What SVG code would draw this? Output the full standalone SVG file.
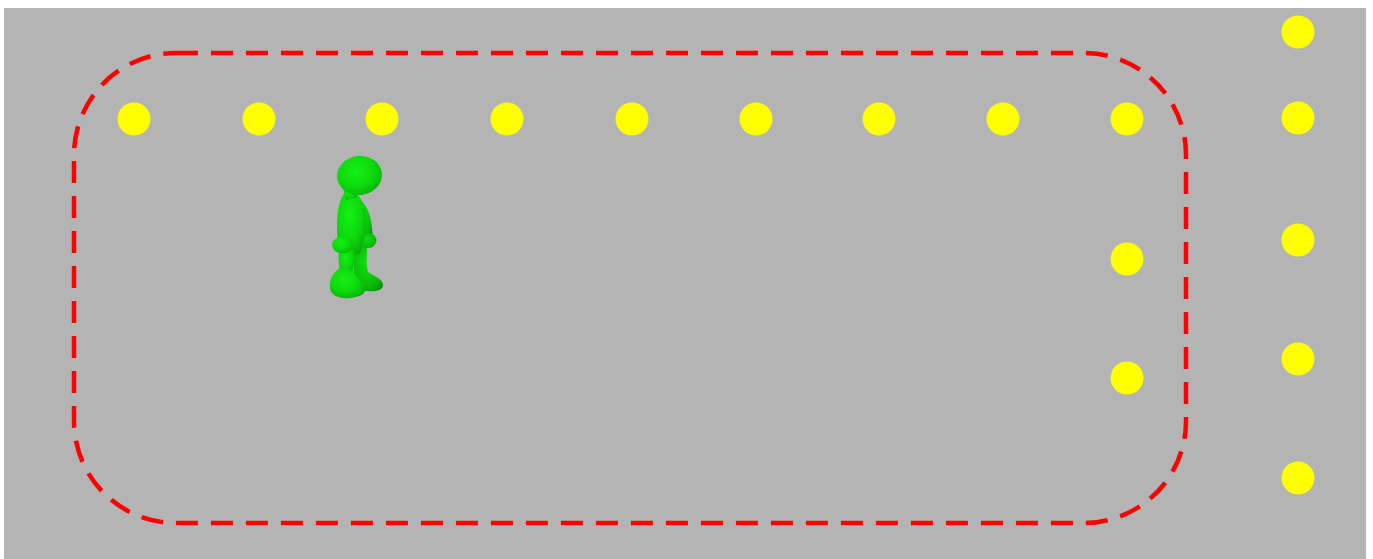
<svg xmlns="http://www.w3.org/2000/svg" width="1373" height="559" viewBox="0 0 1373 559">
  <style>
    .lamp { fill: #ffff00; }
    .track { fill: none; stroke: #ff0000; stroke-width: 4.5; stroke-dasharray: 22 13; stroke-linecap: butt; }
    .skin { fill: url(#greenShade); }
    .skinDark { fill: url(#greenShadeDark); }
  </style>
  <defs>
    <radialGradient id="greenShade" cx="0.42" cy="0.38" r="0.7">
      <stop offset="0" stop-color="#14f014"/>
      <stop offset="0.6" stop-color="#0cd80c"/>
      <stop offset="1" stop-color="#0aaa0a"/>
    </radialGradient>
    <radialGradient id="greenShadeDark" cx="0.45" cy="0.4" r="0.7">
      <stop offset="0" stop-color="#10dc10"/>
      <stop offset="0.7" stop-color="#0abc0a"/>
      <stop offset="1" stop-color="#089608"/>
    </radialGradient>
  </defs>

  <!-- floor -->
  <rect x="4" y="8" width="1362" height="551" fill="#b4b4b4"/>

  <!-- dashed walking loop -->
  <g id="connectors">
    <rect class="track" x="74" y="53" width="1112" height="470" rx="102" ry="102"/>
  </g>

  <!-- top row of lights -->
  <g id="lights-top">
    <circle class="lamp" cx="134" cy="119" r="16.5"/>
    <circle class="lamp" cx="259" cy="119" r="16.5"/>
    <circle class="lamp" cx="382" cy="119" r="16.5"/>
    <circle class="lamp" cx="507" cy="119" r="16.5"/>
    <circle class="lamp" cx="632" cy="119" r="16.5"/>
    <circle class="lamp" cx="756" cy="119" r="16.5"/>
    <circle class="lamp" cx="879" cy="119" r="16.5"/>
    <circle class="lamp" cx="1003" cy="119" r="16.5"/>
    <circle class="lamp" cx="1127" cy="119" r="16.5"/>
  </g>

  <!-- inner column of lights -->
  <g id="lights-inner">
    <circle class="lamp" cx="1127" cy="259" r="16.5"/>
    <circle class="lamp" cx="1127" cy="378" r="16.5"/>
  </g>

  <!-- outer column of lights -->
  <g id="lights-outer">
    <circle class="lamp" cx="1298" cy="32" r="16.5"/>
    <circle class="lamp" cx="1298" cy="118" r="16.5"/>
    <circle class="lamp" cx="1298" cy="240" r="16.5"/>
    <circle class="lamp" cx="1298" cy="359" r="16.5"/>
    <circle class="lamp" cx="1298" cy="478" r="16.5"/>
  </g>

  <!-- walking figure -->
  <g id="figure">
    <!-- far leg and foot -->
    <path class="skinDark" d="M353 244 L367 244 C367 256 366 266 368 272 C374 276 383 279 383 285 C383 291 374 292 366 291 C358 290 354 285 354 278 C354 266 352 255 353 244 Z"/>
    <!-- far arm and hand -->
    <path class="skinDark" d="M358 198 C366 204 371 214 372 228 L373 238 L364 238 L363 228 C362 218 358 210 353 205 Z"/>
    <ellipse class="skinDark" cx="368" cy="240.5" rx="8.5" ry="7.5"/>
    <!-- torso -->
    <path class="skin" d="M346 190 C340 198 337 210 337 224 C337 236 338 246 340 254 L360 254 C363 244 366 232 366 220 C366 208 362 199 356 193 Z"/>
    <!-- near leg -->
    <path class="skin" d="M339 248 L355 248 C355 258 354 266 352 274 L340 274 C339 266 338 258 339 248 Z"/>
    <!-- near foot -->
    <path class="skin" d="M340 268 C333 272 329 280 330 288 C331 296 340 299 350 298 C360 297 366 294 365 288 C363 282 356 278 353 270 Z"/>
    <!-- near hand -->
    <ellipse class="skin" cx="342.5" cy="245" rx="10.5" ry="8.5"/>
    <!-- neck -->
    <path class="skin" d="M343 188 L353 184 L357 197 L346 200 Z"/>
    <!-- head -->
    <ellipse class="skin" cx="359.5" cy="175.5" rx="22.5" ry="19.5" transform="rotate(-6 359.5 175.5)"/>
  </g>
</svg>
